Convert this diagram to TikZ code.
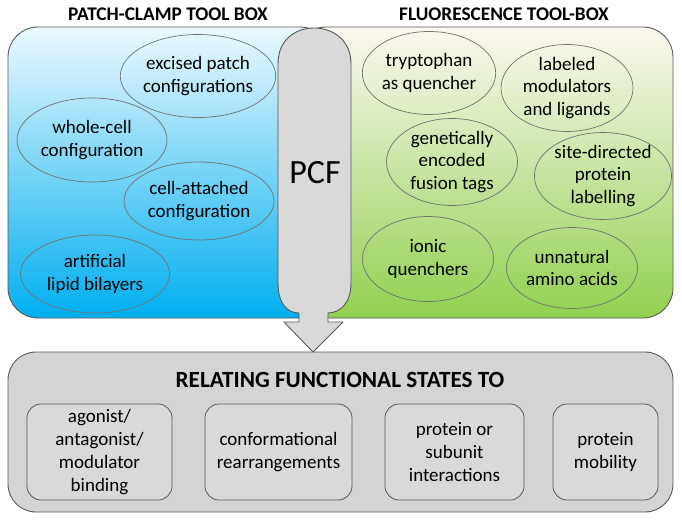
\documentclass[tikz,border=0pt]{standalone}
\usepackage{fontspec}
\setmainfont{Carlito}
\usetikzlibrary{shapes.geometric}

\definecolor{pcblue}{RGB}{0,174,239}
\definecolor{pctop}{RGB}{236,249,254}
\definecolor{flgreen}{RGB}{146,208,80}
\definecolor{fltop}{RGB}{252,248,240}
\definecolor{boxgray}{RGB}{217,217,217}
\definecolor{edgegray}{RGB}{89,89,89}

\begin{document}
\begin{tikzpicture}[x=1pt, y=-1pt,
    toolbox/.style={draw=edgegray, line width=0.9pt, rounded corners=30pt, inner sep=0pt},
    tool/.style={ellipse, draw=edgegray!85, line width=0.7pt, inner sep=0pt, align=center,
        font=\fontsize{19}{22.5}\selectfont},
    state/.style={draw=edgegray, fill=boxgray, rounded corners=14pt, line width=0.8pt,
        minimum height=96pt, inner sep=0pt, align=center, font=\fontsize{19}{22.8}\selectfont},
    heading/.style={font=\bfseries\fontsize{19.3}{19.3}\selectfont}]

    \useasboundingbox (0,0) rectangle (682,519);

    % Tool boxes
    \node[toolbox, top color=fltop, bottom color=flgreen, minimum width=377pt, minimum height=291pt] (fluobox) at (484.5,172.5) {};
    \node[toolbox, top color=pctop, bottom color=pcblue, minimum width=322pt, minimum height=291pt] (patchbox) at (169,172.5) {};

    \node[heading] (patchtitle) at (168,14) {PATCH-CLAMP TOOL BOX};
    \node[heading] (fluotitle) at (504,14) {FLUORESCENCE TOOL-BOX};

    % Patch-clamp tools
    \node[tool, minimum width=150pt, minimum height=83pt] (excised) at (198,76) {excised patch\\configurations};
    \node[tool, minimum width=150pt, minimum height=84pt] (whole) at (92,140) {whole-cell\\configuration};
    \node[tool, minimum width=150pt, minimum height=78pt] (attached) at (199,201) {cell-attached\\configuration};
    \node[tool, minimum width=149pt, minimum height=78pt] (bilayer) at (95,274) {artificial\\lipid bilayers};

    % Fluorescence tools
    \node[tool, minimum width=132pt, minimum height=83pt] (trp) at (429,73) {tryptophan\\as quencher};
    \node[tool, minimum width=132pt, minimum height=83pt] (ligand) at (567,88) {labeled\\modulators\\and ligands};
    \node[tool, minimum width=131pt, minimum height=87pt] (fusion) at (452,162) {genetically\\encoded\\fusion tags};
    \node[tool, minimum width=132pt, minimum height=85pt] (site) at (603,176) {site-directed\\protein\\labelling};
    \node[tool, minimum width=131pt, minimum height=85pt] (ionic) at (428,259) {ionic\\quenchers};
    \node[tool, minimum width=131pt, minimum height=81pt] (uaa) at (572,268) {unnatural\\amino acids};

    % Functional states
    \node[draw=edgegray, fill={rgb,255:red,212;green,212;blue,212}, line width=0.9pt, rounded corners=28pt,
        minimum width=665pt, minimum height=160pt] (relate) at (340.5,432) {};
    \node[font=\bfseries\fontsize{23.2}{23.2}\selectfont] (relatetitle) at (340,380) {RELATING FUNCTIONAL STATES TO};

    \node[state, minimum width=145pt] (binding) at (99.5,452) {agonist/\\antagonist/\\modulator\\binding};
    \node[state, minimum width=147pt] (conform) at (278.5,452) {conformational\\rearrangements};
    \node[state, minimum width=139pt] (subunit) at (454.5,452) {protein or\\subunit\\interactions};
    \node[state, minimum width=105pt] (mobility) at (605.5,452) {protein\\mobility};

    % PCF arrow
    \coordinate (tip) at (313,352);
    \draw[edgegray, fill=boxgray, line width=0.9pt, line join=round]
        (278,64) .. controls (278,40) and (295,28) .. (314,28)
        .. controls (333,28) and (351,40) .. (351,64)
        -- (351,283) .. controls (351,303) and (340,313) .. (328,313)
        -- (328,322) -- (343,322) -- (tip) -- (284,322) -- (299,322) -- (299,313)
        .. controls (287,313) and (278,303) .. (278,283) -- cycle;
    \node[font=\fontsize{34}{34}\selectfont] (pcf) at (315,173) {PCF};
\end{tikzpicture}
\end{document}
